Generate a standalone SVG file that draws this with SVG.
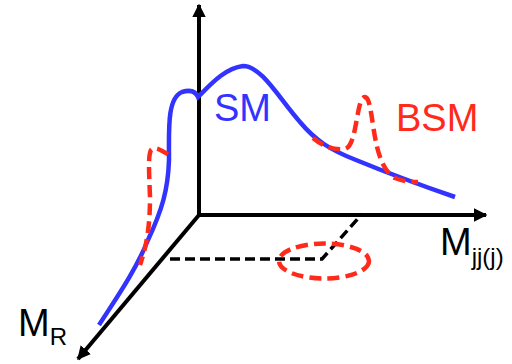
<svg xmlns="http://www.w3.org/2000/svg" width="512" height="364" viewBox="0 0 512 364">
<defs>
<style>
.axis{stroke:#000;stroke-width:4;fill:none}
.blk{stroke:#000;stroke-width:3.5;fill:none;stroke-dasharray:10 5}
.red{stroke:#ff2a1a;stroke-width:4.5;fill:none;stroke-dasharray:12 6}
.blue{stroke:#3333ff;stroke-width:4.5;fill:none;stroke-linecap:butt}
.lbl{font-family:"Liberation Sans",Arial,sans-serif}
</style>
<marker id="ah" viewBox="0 0 10 10" refX="9" refY="5" markerWidth="3.4" markerHeight="3.6" orient="auto" markerUnits="strokeWidth">
<path d="M0,0 L10,5 L0,10 Z" fill="#000"/>
</marker>
</defs>
<rect width="512" height="364" fill="#fff"/>
<g id="connectors">
<line class="axis" x1="199" y1="217" x2="199" y2="5" marker-end="url(#ah)"/>
<line class="axis" x1="197" y1="215" x2="486" y2="215" marker-end="url(#ah)"/>
<line class="axis" x1="199" y1="215" x2="78" y2="359" marker-end="url(#ah)"/>
<polyline class="blk" points="170,259 322,259 362,214"/>
</g>
<g id="region">
<ellipse class="red" cx="324" cy="261" rx="45" ry="17.5"/>
</g>
<g id="sm-curve">
<path class="blue" d="M99,325 C115,300 135,272 148,240 C162,210 168,190 169,160 C169,130 167,98 182,92 C192,89 196,92 198,97 C210,85 225,68 243,66 C262,66 280,100 300,122 C315,140 330,150 356,160 C390,174 420,185 455,197"/>
</g>
<g id="bsm-curve">
<path class="red" d="M313,138 C325,148 335,150 345,149 C356,146 356,110 362,99 C368,92 370,105 373,125 C378,160 385,172 395,178 C402,181 410,182 418,182"/>
<path class="red" d="M168,154 C160,150 155,146 151,150 C148,156 149,170 150,197 C150,225 147,245 140,265"/>
</g>
<g id="labels">
<text class="lbl" x="214" y="121" font-size="38" fill="#3333ff">SM</text>
<text class="lbl" x="396" y="131" font-size="38" fill="#ff2a1a">BSM</text>
<text class="lbl" x="18" y="336" font-size="38" fill="#000">M<tspan font-size="24" dy="9">R</tspan></text>
<text class="lbl" x="440" y="255" font-size="38" fill="#000">M<tspan font-size="24" dy="10">jj(j)</tspan></text>
</g>
</svg>
